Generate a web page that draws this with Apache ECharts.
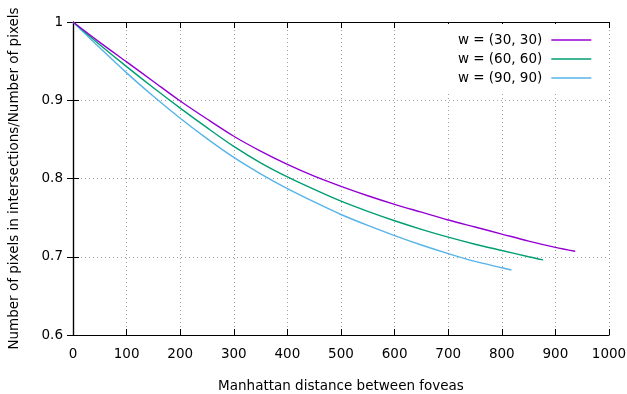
<!DOCTYPE html>
<html>
<head>
<meta charset="utf-8">
<script src="https://cdn.jsdelivr.net/npm/echarts@6/dist/echarts.min.js"></script>
<style>
  html, body { margin: 0; padding: 0; background: #fff; }
  #chart { width: 627px; height: 394px; }
</style>
</head>
<body>
<div id="chart"></div>
<script>
// Overlap ratio vs. Manhattan distance between foveas, per window size
const seriesNames = ['w = (30, 30)', 'w = (60, 60)', 'w = (90, 90)'];

const distW30 = [0, 50, 100, 150, 200, 250, 300, 350, 400, 450, 500, 550, 600, 650, 700, 750, 800, 850, 900, 937];
const ratioW30 = [1.000, 0.974, 0.949, 0.924, 0.899, 0.876, 0.854, 0.835, 0.818, 0.803, 0.790, 0.778, 0.767, 0.757, 0.747, 0.738, 0.729, 0.720, 0.712, 0.707];

const distW60 = [0, 50, 100, 150, 200, 250, 300, 350, 400, 450, 500, 550, 600, 650, 700, 750, 800, 850, 877];
const ratioW60 = [1.000, 0.971, 0.943, 0.916, 0.890, 0.865, 0.841, 0.820, 0.802, 0.786, 0.771, 0.758, 0.746, 0.735, 0.725, 0.716, 0.708, 0.700, 0.696];

const distW90 = [0, 50, 100, 150, 200, 250, 300, 350, 400, 450, 500, 550, 600, 650, 700, 750, 800, 818];
const ratioW90 = [1.000, 0.967, 0.935, 0.905, 0.877, 0.851, 0.827, 0.806, 0.787, 0.770, 0.754, 0.740, 0.727, 0.715, 0.704, 0.694, 0.686, 0.683];

const xTicks = { min: 0, max: 1000, interval: 100 };
const yTicks = { min: 0.6, max: 1, interval: 0.1 };

const colors = ['#9400d3', '#009e73', '#56b4e9'];
const FONT = 'DejaVu Sans';
const FONT_SIZE = 13.5;

function pairs(xs, ys) { return xs.map((x, i) => [x, ys[i]]); }

const chart = echarts.init(document.getElementById('chart'), null, { renderer: 'canvas' });

const gridLine = { show: true, lineStyle: { color: '#a0a0a0', type: [1, 3], width: 1 } };
const frame = { show: true, lineStyle: { color: '#000', width: 1.2 } };
const tickIn = { show: true, inside: true, length: 6, lineStyle: { color: '#000', width: 1 } };
const labelStyle = { color: '#000', fontFamily: FONT, fontSize: FONT_SIZE };

chart.setOption({
  animation: false,
  backgroundColor: '#fff',
  grid: { left: 73, right: 18, top: 22, bottom: 59, containLabel: false, outerBoundsMode: 'none' },
  legend: {
    data: seriesNames,
    orient: 'vertical',
    right: 20,
    top: 24,
    align: 'right',
    padding: [9, 15, 6, 10],
    backgroundColor: '#fff',
    itemWidth: 40,
    itemHeight: 14,
    itemGap: 5,
    itemStyle: { opacity: 0 },
    lineStyle: { width: 1.4 },
    textStyle: { color: '#000', fontFamily: FONT, fontSize: FONT_SIZE, padding: [0, 4, 0, 0] }
  },
  xAxis: [
    {
      type: 'value', min: xTicks.min, max: xTicks.max, interval: xTicks.interval,
      name: 'Manhattan distance between foveas', nameLocation: 'middle', nameGap: 44,
      nameTextStyle: labelStyle,
      axisLine: frame, axisTick: tickIn, splitLine: gridLine,
      axisLabel: Object.assign({ margin: 12, formatter: v => String(v) }, labelStyle)
    },
    {
      type: 'value', position: 'top', min: xTicks.min, max: xTicks.max, interval: xTicks.interval,
      axisLine: frame, axisTick: tickIn, splitLine: { show: false }, axisLabel: { show: false }
    }
  ],
  yAxis: [
    {
      type: 'value', min: yTicks.min, max: yTicks.max, interval: yTicks.interval,
      name: 'Number of pixels in intersections/Number of pixels', nameLocation: 'middle', nameGap: 52,
      nameTextStyle: labelStyle,
      axisLine: frame, axisTick: tickIn, splitLine: gridLine,
      axisLabel: Object.assign({ margin: 10, formatter: v => String(+v.toFixed(1)) }, labelStyle)
    },
    {
      type: 'value', position: 'right', min: yTicks.min, max: yTicks.max, interval: yTicks.interval,
      axisLine: frame, axisTick: tickIn, splitLine: { show: false }, axisLabel: { show: false }
    }
  ],
  series: [
    { name: seriesNames[0], data: pairs(distW30, ratioW30) },
    { name: seriesNames[1], data: pairs(distW60, ratioW60) },
    { name: seriesNames[2], data: pairs(distW90, ratioW90) }
  ].map((s, i) => Object.assign(s, {
    type: 'line', smooth: 0.3, symbol: 'none', z: 3 - i,
    color: colors[i],
    lineStyle: { color: colors[i], width: 1.4 }
  }))
});
</script>
</body>
</html>
